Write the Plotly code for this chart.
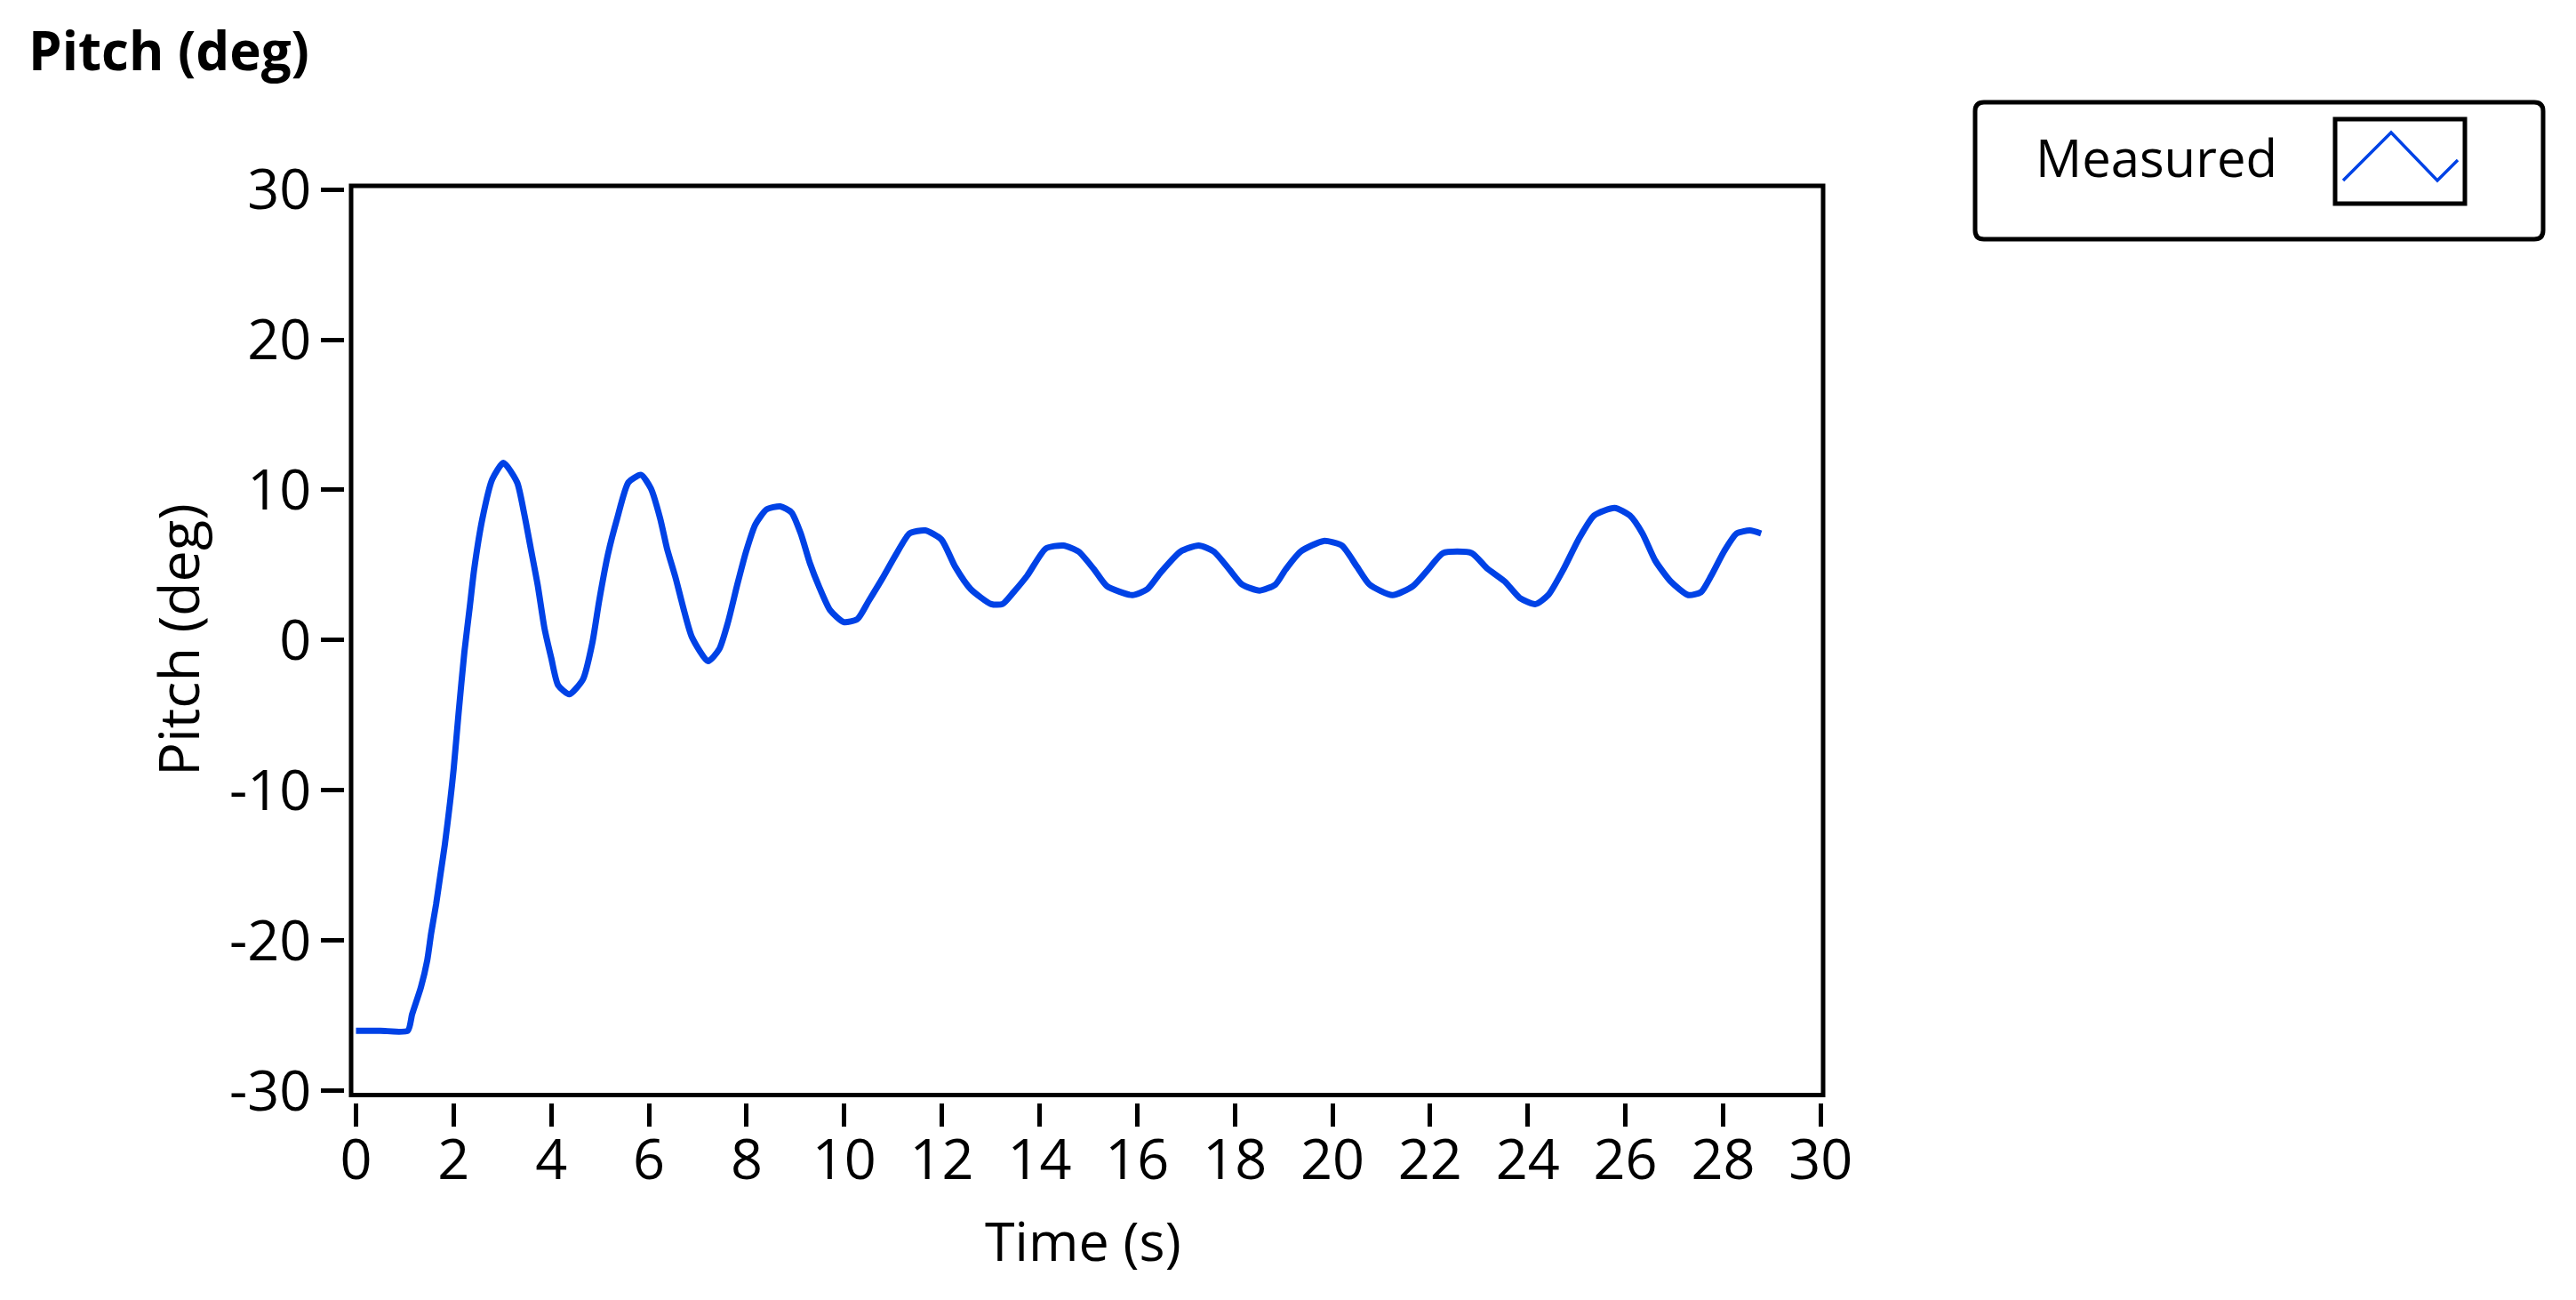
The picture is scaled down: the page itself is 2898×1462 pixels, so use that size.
import plotly.graph_objects as go

# ---------------- data ----------------
time_s = [0.0, 0.5, 1.06, 1.15, 1.33, 1.46, 1.54, 1.64, 1.73, 1.82, 1.93, 2.00, 2.10, 2.22,
          2.33, 2.42, 2.59, 2.79, 3.02, 3.30, 3.44, 3.58, 3.72, 3.86, 4.00, 4.14, 4.37,
          4.65, 4.84, 4.98, 5.16, 5.35, 5.58, 5.84, 6.04, 6.23, 6.37, 6.55, 6.70, 6.88,
          7.21, 7.44, 7.62, 7.81, 7.99, 8.18, 8.41, 8.69, 8.92, 9.11, 9.30, 9.48, 9.71,
          9.99, 10.27, 10.50, 10.78, 11.06, 11.34, 11.66, 11.99, 12.27, 12.59, 13.01,
          13.24, 13.47, 13.75, 14.13, 14.49, 14.80, 15.12, 15.38, 15.90, 16.21, 16.48,
          16.89, 17.26, 17.57, 17.89, 18.15, 18.51, 18.83, 19.04, 19.35, 19.82, 20.19,
          20.50, 20.76, 21.23, 21.65, 21.96, 22.27, 22.85, 23.16, 23.53, 23.84, 24.16,
          24.42, 24.73, 25.04, 25.36, 25.78, 26.09, 26.35, 26.61, 26.93, 27.29, 27.55,
          27.76, 28.02, 28.28, 28.55, 28.78]
pitch_deg = [-26.0, -26.0, -26.0, -24.9, -23.1, -21.3, -19.5, -17.6, -15.6, -13.6, -10.7, -8.6,
             -4.9, -0.8, 2.2, 4.7, 8.1, 10.7, 11.8, 10.5, 8.5, 6.1, 3.7, 0.8, -1.2, -3.0,
             -3.6, -2.6, -0.2, 2.6, 5.7, 8.1, 10.5, 11.0, 10.1, 8.1, 6.1, 4.1, 2.2, 0.2,
             -1.4, -0.6, 1.2, 3.7, 5.9, 7.7, 8.7, 8.9, 8.5, 7.1, 5.1, 3.6, 2.0, 1.2, 1.4,
             2.6, 4.1, 5.7, 7.1, 7.3, 6.7, 4.9, 3.4, 2.4, 2.4, 3.2, 4.3, 6.1, 6.3, 5.9,
             4.7, 3.6, 3.0, 3.4, 4.5, 5.9, 6.3, 5.9, 4.7, 3.7, 3.3, 3.7, 4.7, 5.9, 6.6,
             6.3, 4.9, 3.7, 3.0, 3.6, 4.7, 5.8, 5.8, 4.8, 3.9, 2.8, 2.4, 3.0, 4.7, 6.7,
             8.3, 8.8, 8.3, 7.1, 5.3, 3.9, 3.0, 3.2, 4.3, 5.9, 7.1, 7.3, 7.1]

x_tick_vals = list(range(0, 31, 2))
x_tick_text = [str(v) for v in x_tick_vals]
y_tick_vals = [-30, -20, -10, 0, 10, 20, 30]
y_tick_text = ["-30", "-20", "-10", "0", "10", "20", "30"]

series_name = "Measured"
chart_title = "Pitch (deg)"
x_title = "Time (s)"
y_title = "Pitch (deg)"

# ---------------- layout geometry ----------------
# page body has an 8px default margin, so the figure is drawn 8px in from the window edge
OFF = 8
W, H = 2898 - 2 * OFF, 1462 - 2 * OFF
ML = 387 - OFF
MT = 209 - OFF
MR = W - (2051 - OFF)
MB = H - (1240 - OFF)
PW = W - ML - MR
PH = H - MT - MB


def px(x):  # page pixel -> paper fraction
    return (x - OFF - ML) / PW


def py(y):
    return (H - MB - (y - OFF)) / PH


def P(x, y):
    return f"{px(x):.6f},{py(y):.6f}"


FONT = "Open Sans"
LINE_BLUE = "#0042E6"

fig = go.Figure()
fig.add_trace(go.Scatter(
    x=time_s, y=pitch_deg, mode="lines", name=series_name,
    line=dict(color=LINE_BLUE, width=7, shape="spline", smoothing=0.6),
    showlegend=False, hoverinfo="x+y",
))

fig.update_layout(
    width=W, height=H,
    margin=dict(l=ML, r=MR, t=MT, b=MB, pad=0),
    paper_bgcolor="white", plot_bgcolor="white",
    font=dict(family=FONT, size=63, color="black"),
    showlegend=False,
    xaxis=dict(
        domain=[px(395), 1], range=[-0.10, 30.05], anchor="free", position=0,
        showline=False, showgrid=False, zeroline=False,
        ticks="outside", ticklen=26, tickwidth=5, tickcolor="black",
        tickmode="array", tickvals=x_tick_vals, ticktext=x_tick_text,
        tickfont=dict(family=FONT, size=63, color="black"),
        ticklabelstandoff=-17,
        fixedrange=True,
    ),
    yaxis=dict(
        domain=[py(1231.5), 1], range=[-30.28, 30.24], anchor="free", position=0,
        showline=False, showgrid=False, zeroline=False,
        ticks="outside", ticklen=26, tickwidth=5, tickcolor="black",
        tickmode="array", tickvals=y_tick_vals, ticktext=y_tick_text,
        tickfont=dict(family=FONT, size=63, color="black"),
        ticklabelstandoff=-2,
        fixedrange=True,
    ),
)

# plot frame
fig.add_shape(type="rect", xref="x domain", yref="y domain", x0=0, x1=1, y0=0, y1=1,
              line=dict(color="black", width=5), fillcolor="rgba(0,0,0,0)", layer="above")

# axis titles
fig.add_annotation(text=x_title, xref="paper", yref="paper",
                   x=px(1218), y=py(1394), xanchor="center", yanchor="middle",
                   showarrow=False, font=dict(family=FONT, size=61, color="black"))
fig.add_annotation(text=y_title, xref="paper", yref="paper", textangle=-90,
                   x=px(199), y=py(720), xanchor="center", yanchor="middle",
                   showarrow=False, font=dict(family=FONT, size=63, color="black"))

# chart title (top-left)
fig.add_annotation(text=f"<b>{chart_title}</b>", xref="paper", yref="paper",
                   x=px(30), y=py(56), xanchor="left", yanchor="middle",
                   showarrow=False, font=dict(family=FONT, size=60, color="black"))

# ---------------- legend box (drawn) ----------------
x0, y0, x1, y1, r = 2222, 115, 2861, 269, 10
rr = (f"M {P(x0 + r, y0)} L {P(x1 - r, y0)} Q {P(x1, y0)} {P(x1, y0 + r)} "
      f"L {P(x1, y1 - r)} Q {P(x1, y1)} {P(x1 - r, y1)} L {P(x0 + r, y1)} "
      f"Q {P(x0, y1)} {P(x0, y1 - r)} L {P(x0, y0 + r)} Q {P(x0, y0)} {P(x0 + r, y0)} Z")
fig.add_shape(type="path", xref="paper", yref="paper", path=rr,
              line=dict(color="black", width=5), fillcolor="white", layer="above")
fig.add_shape(type="rect", xref="paper", yref="paper",
              x0=px(2627), x1=px(2773), y0=py(229), y1=py(134),
              line=dict(color="black", width=5), fillcolor="white", layer="above")
zig = f"M {P(2636, 203)} L {P(2690, 149)} L {P(2742, 203)} L {P(2765, 180)}"
fig.add_shape(type="path", xref="paper", yref="paper", path=zig,
              line=dict(color=LINE_BLUE, width=3.5), layer="above")
fig.add_annotation(text=series_name, xref="paper", yref="paper",
                   x=px(2288), y=py(176.5), xanchor="left", yanchor="middle",
                   showarrow=False, font=dict(family=FONT, size=58, color="black"))

fig.write_html("out.html", config={"displayModeBar": False})
